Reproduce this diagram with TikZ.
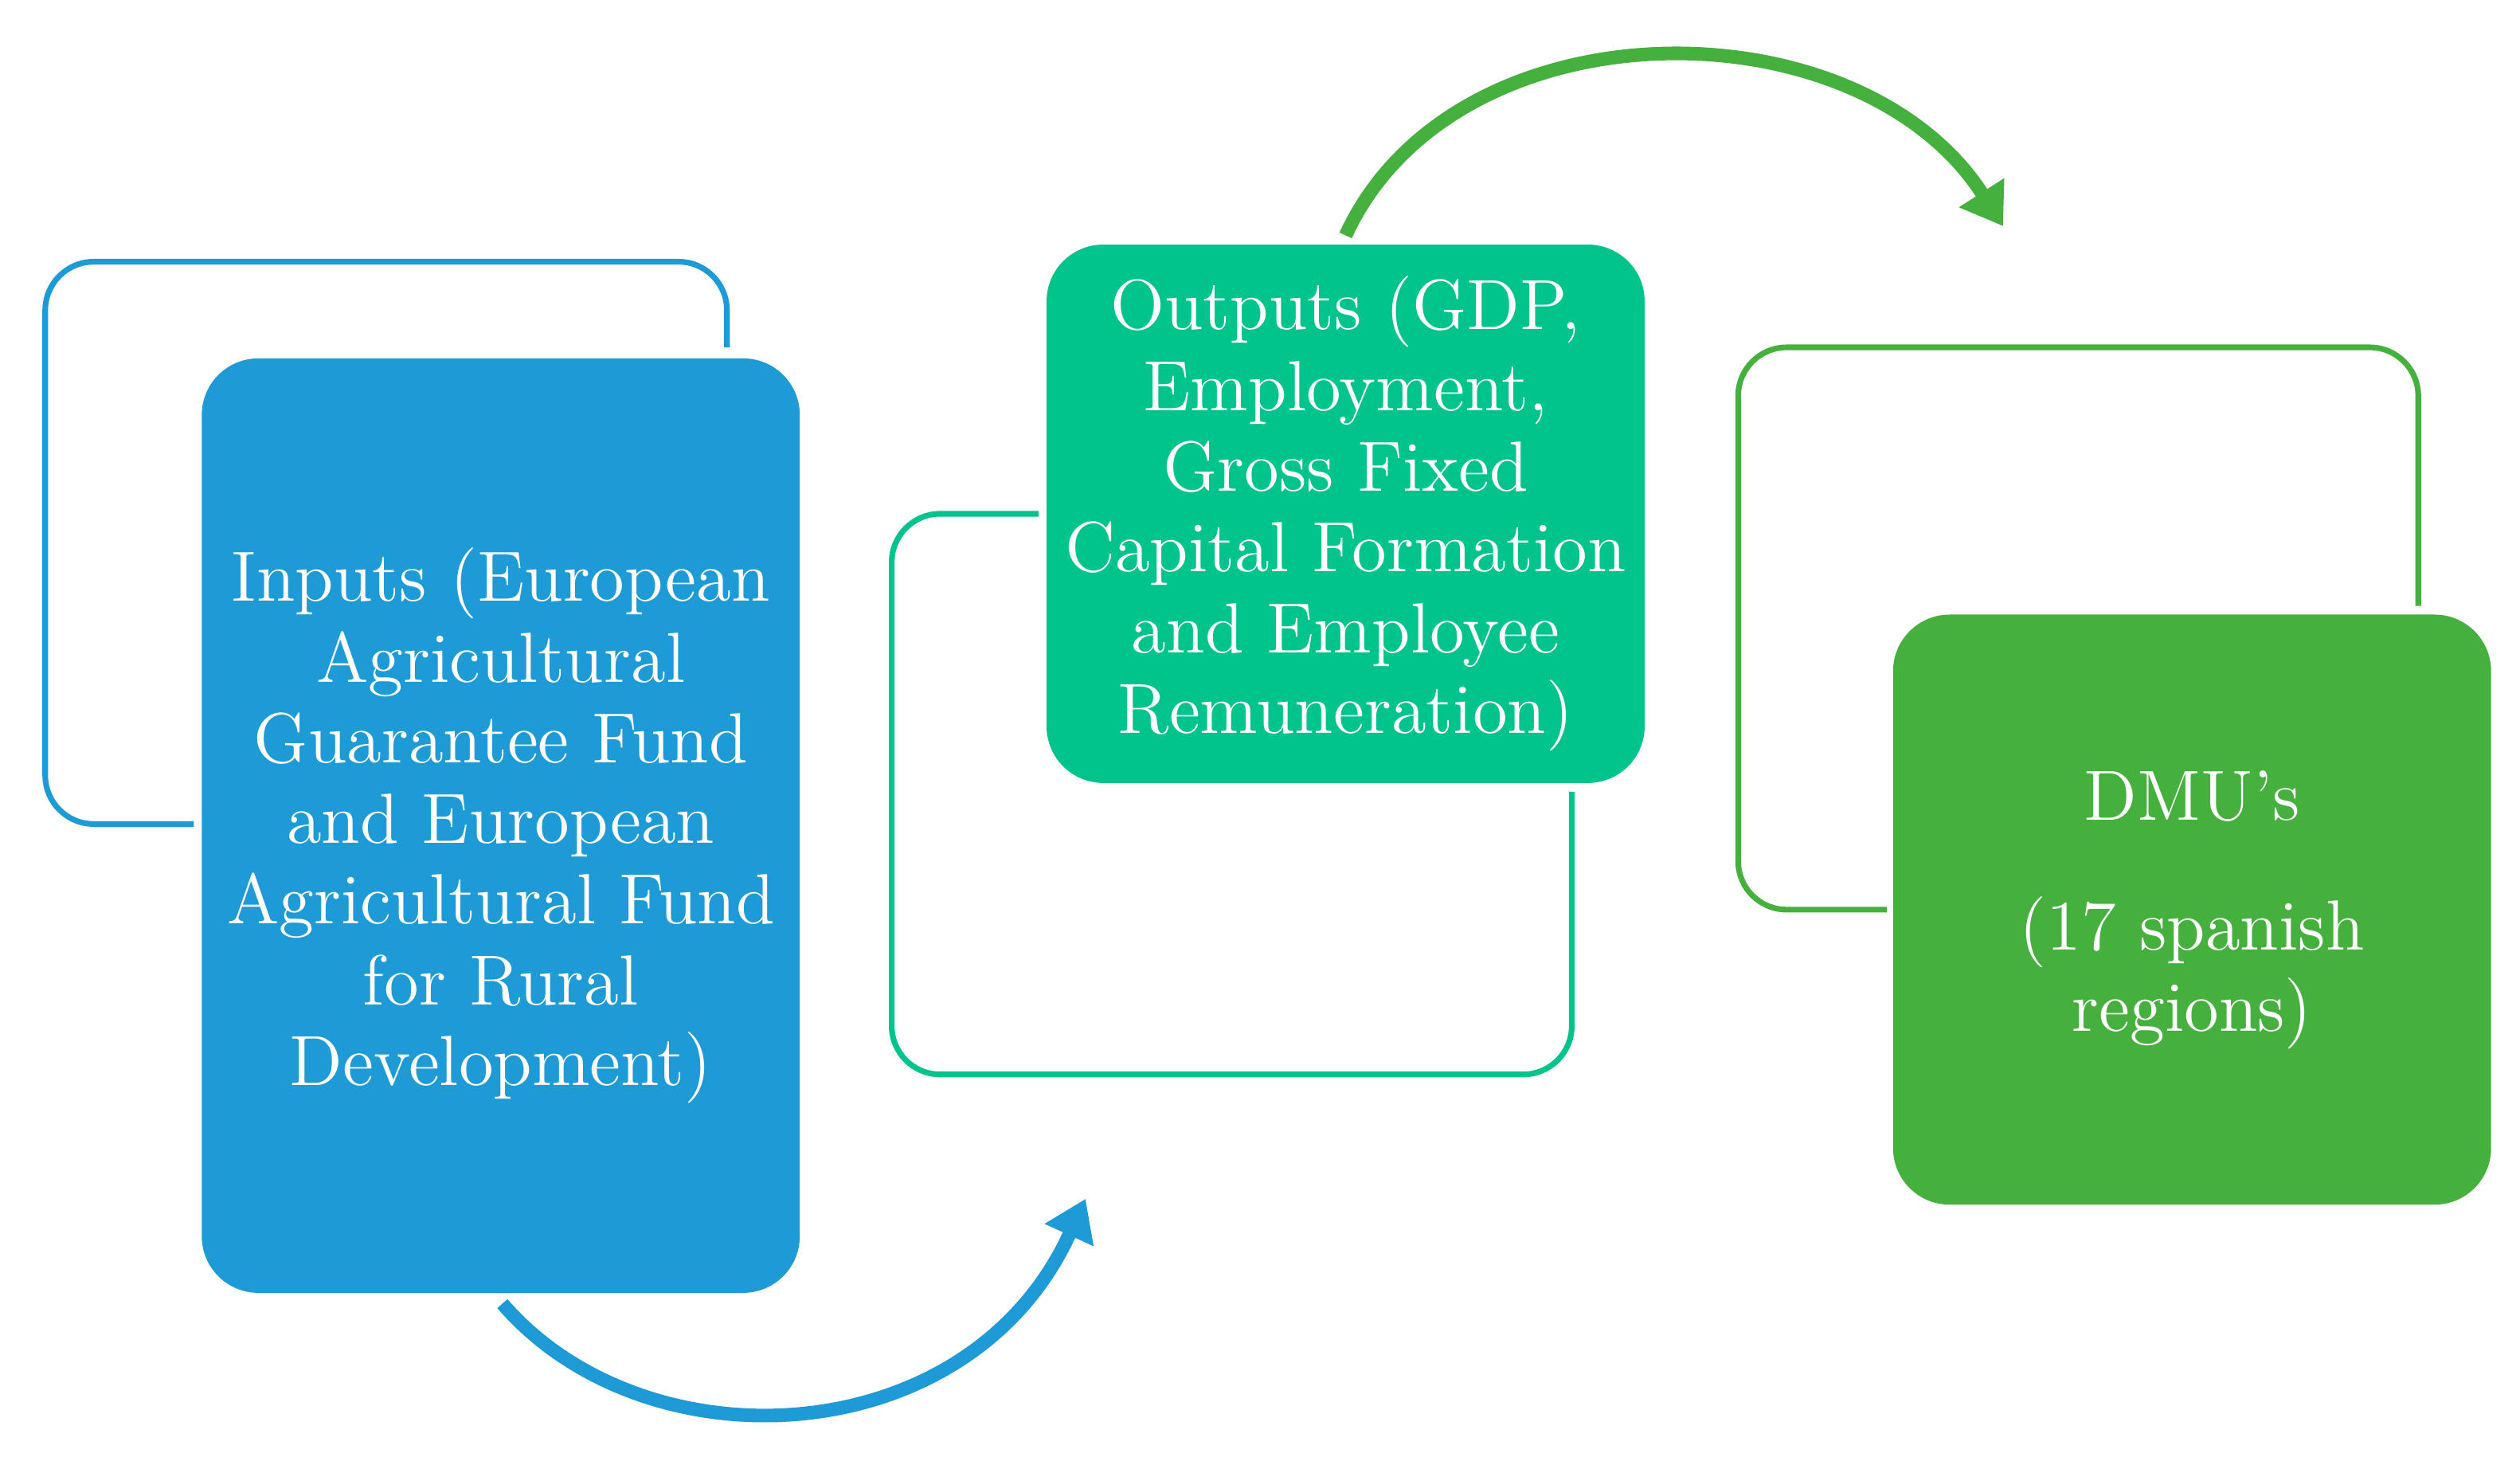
\documentclass[tikz,border=0pt]{standalone}
\usetikzlibrary{arrows.meta}
\definecolor{cblue}{HTML}{1E9BD7}
\definecolor{cteal}{HTML}{00C48C}
\definecolor{cgreen}{HTML}{45B03D}
\begin{document}
\begin{tikzpicture}[x=0.01cm, y=-0.01cm,
	box/.style={rounded corners=0.35cm, text=white, align=center, inner sep=0pt,
		font=\fontsize{12.5}{14.2}\selectfont},
	frame/.style={rounded corners=0.3cm, line width=1pt},
	flow/.style={line width=2.4pt, -{Triangle[length=7pt, width=9pt]}}
	]
	\useasboundingbox (0,0) rectangle (1560,904);

	% ---------- Inputs ----------
	\draw[frame, cblue] (450,215) -- (450,162) -- (28,162) -- (28,510) -- (120,510);
	\node[box, fill=cblue, minimum width=3.7cm, minimum height=5.78cm] (inp) at (310,511)
		{Inputs (European\\Agricultural\\Guarantee Fund\\and European\\Agricultural Fund\\for Rural\\Development)};

	% ---------- Outputs ----------
	\draw[frame, cteal] (643,318) -- (552,318) -- (552,665) -- (973,665) -- (973,490);
	\node[box, fill=cteal, minimum width=3.7cm, minimum height=3.33cm] (outp) at (833,318)
		{Outputs (GDP,\\Employment,\\Gross Fixed\\Capital Formation\\and Employee\\Remuneration)};

	% ---------- DMU's ----------
	\draw[frame, cgreen] (1168,563) -- (1076,563) -- (1076,215) -- (1497,215) -- (1497,375);
	\node[box, fill=cgreen, minimum width=3.7cm, minimum height=3.65cm] (dmu) at (1357,563)
		{DMU's\\[0.7em](17 spanish\\regions)};

	% ---------- Arrows ----------
	\coordinate (a1) at (672,742);
	\coordinate (a2) at (1240,140);
	\draw[flow, cblue] ([xshift=0.01cm, yshift=-0.06cm]inp.south) .. controls (400,910) and (600,900) .. (a1);
	\draw[flow, cgreen] ([yshift=0.05cm]outp.north) .. controls (900,0) and (1150,0) .. (a2);
\end{tikzpicture}
\end{document}
